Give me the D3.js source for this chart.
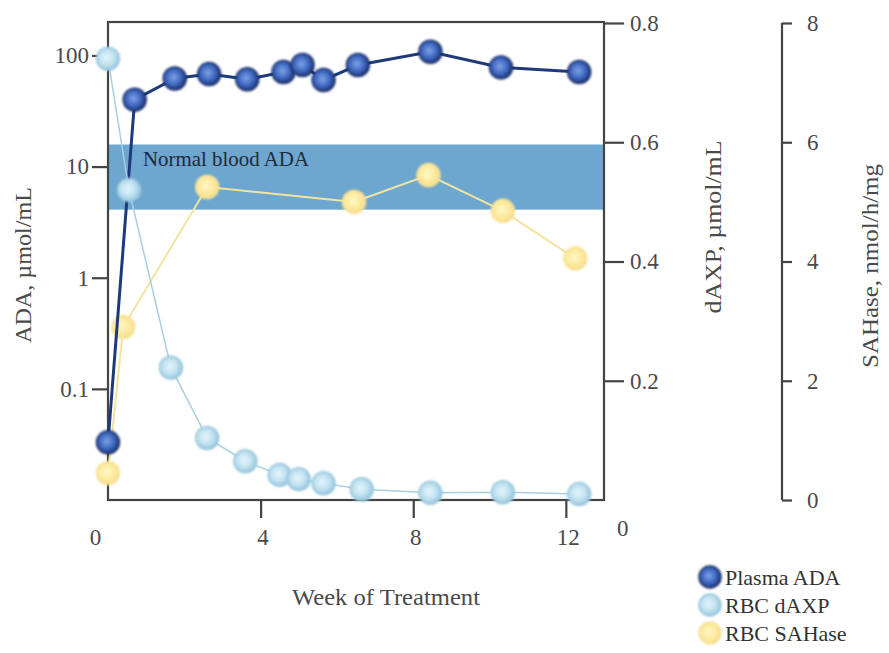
<!DOCTYPE html>
<html>
<head>
<meta charset="utf-8">
<script src="https://cdn.jsdelivr.net/npm/d3@7"></script>
<style>
body { margin: 0; background: #fff; }
text { font-family: "Liberation Serif", "DejaVu Serif", serif; fill: #3a3a3a; }
</style>
</head>
<body>
<svg id="chart" width="889" height="653"></svg>
<script>
// ---------- data ----------
const adaWeeks   = [0, 0.7, 1.75, 2.65, 3.65, 4.6, 5.1, 5.65, 6.55, 8.45, 10.3, 12.35];
const adaValues  = [0.033, 40, 62, 68, 61, 71, 82, 60, 82, 108, 78, 71];

const daxpWeeks  = [0, 0.55, 1.65, 2.6, 3.6, 4.5, 5.0, 5.65, 6.65, 8.45, 10.35, 12.35];
const daxpValues = [0.74, 0.52, 0.222, 0.104, 0.065, 0.042, 0.035, 0.028, 0.018, 0.012, 0.013, 0.01];

const sahWeeks   = [0, 0.4, 2.6, 6.45, 8.4, 10.35, 12.25];
const sahValues  = [0.45, 2.9, 5.25, 5.0, 5.45, 4.85, 4.05];

const normalBand = [4.1, 15.8];

const xTicks      = [0, 4, 8, 12];
const adaTicks    = [100, 10, 1, 0.1];
const adaTickText = ["100", "10", "1", "0.1"];
const daxpTicks   = [0, 0.2, 0.4, 0.6, 0.8];
const sahTicks    = [0, 2, 4, 6, 8];

const seriesNames = ["Plasma ADA", "RBC dAXP", "RBC SAHase"];

// ---------- setup ----------
const svg = d3.select("#chart");
const L = 108, R = 604, T = 22, B = 500;
const x = d3.scaleLinear().domain([0, 13]).range([L, R]);
const yAda = d3.scaleLog().domain([0.01, 200]).range([B, T]);
const yDaxp = d3.scaleLinear().domain([0, 0.8]).range([B, 23]);
const ySah = d3.scaleLinear().domain([0, 8]).range([B, 23]);
const TICK_FONT = 23;
const TEXT_COL = "#4a4a4a";

const defs = svg.append("defs");
function grad(id, c0, c1, c2) {
  const g = defs.append("radialGradient").attr("id", id)
    .attr("cx", "45%").attr("cy", "45%").attr("r", "55%");
  g.append("stop").attr("offset", "0%").attr("stop-color", c0);
  g.append("stop").attr("offset", "60%").attr("stop-color", c1);
  g.append("stop").attr("offset", "100%").attr("stop-color", c2);
}
grad("gDark", "#7fa3e6", "#3d66bf", "#1c3372");
grad("gLight", "#e6f5fb", "#bfe1f0", "#93c4dc");
grad("gYellow", "#fff8c8", "#fdea9e", "#f6dc8c");
const blur = defs.append("filter").attr("id", "soft").attr("x", "-30%").attr("y", "-30%").attr("width", "160%").attr("height", "160%");
blur.append("feGaussianBlur").attr("stdDeviation", 0.8);

// band
svg.append("rect")
  .attr("x", L).attr("width", R - L)
  .attr("y", yAda(normalBand[1]))
  .attr("height", yAda(normalBand[0]) - yAda(normalBand[1]))
  .attr("fill", "#6da6cf");
svg.append("text").attr("x", 143).attr("y", 166)
  .attr("font-size", 21).attr("textLength", 166).attr("lengthAdjust", "spacingAndGlyphs")
  .style("fill", "#1f2a3a").text("Normal blood ADA");

// frame
svg.append("rect").attr("x", L).attr("y", T).attr("width", R - L).attr("height", B - T)
  .attr("fill", "none").attr("stroke", "#444").attr("stroke-width", 2.2);

// axes
function styleAxis(g) {
  g.select(".domain").remove();
  g.selectAll(".tick line").attr("stroke", "#444").attr("stroke-width", 2.2);
  g.selectAll(".tick text").attr("font-family", "Liberation Serif, serif")
    .attr("font-size", TICK_FONT).style("fill", TEXT_COL);
}
const xAxis = svg.append("g").attr("transform", `translate(0,${B})`)
  .call(d3.axisBottom(x).tickValues(xTicks).tickSize(18).tickPadding(11).tickFormat(d3.format("d")));
styleAxis(xAxis);
xAxis.selectAll(".tick").filter(d => d === 0).select("line").remove();
xAxis.selectAll(".tick").filter(d => d === 0).select("text").attr("x", -13);
xAxis.selectAll(".tick").filter(d => d !== 0).select("text").attr("x", 2);

const yAxisL = svg.append("g").attr("transform", `translate(${L},0)`)
  .call(d3.axisLeft(yAda).tickValues(adaTicks).tickSize(16).tickPadding(3)
    .tickFormat((d, i) => adaTickText[i]));
styleAxis(yAxisL);

const yAxisR = svg.append("g").attr("transform", `translate(${R},0)`)
  .call(d3.axisRight(yDaxp).tickValues(daxpTicks).tickSize(20).tickPadding(6).tickFormat(d3.format(".1f")));
styleAxis(yAxisR);
yAxisR.selectAll(".tick").filter(d => d === 0).select("line").remove();
yAxisR.selectAll(".tick").filter(d => d === 0).select("text").text("0")
  .attr("x", 13).attr("y", 28);

const yAxisS = svg.append("g").attr("transform", `translate(782,0)`)
  .call(d3.axisRight(ySah).tickValues(sahTicks).tickSize(10).tickPadding(15).tickFormat(d3.format("d")));
styleAxis(yAxisS);
yAxisS.append("line").attr("x1", 0).attr("x2", 0).attr("y1", ySah(8)).attr("y2", ySah(0))
  .attr("stroke", "#444").attr("stroke-width", 2.2);

// axis titles
function vTitle(xb, yc, len, label) {
  svg.append("text").attr("transform", `translate(${xb},${yc}) rotate(-90)`)
    .attr("text-anchor", "middle").attr("font-size", 24)
    .attr("textLength", len).attr("lengthAdjust", "spacingAndGlyphs")
    .style("fill", TEXT_COL).text(label);
}
vTitle(31, 265, 156, "ADA, µmol/mL");
vTitle(721, 227, 173, "dAXP, µmol/mL");
vTitle(878, 266, 204, "SAHase, nmol/h/mg");
svg.append("text").attr("x", 386).attr("y", 605)
  .attr("text-anchor", "middle").attr("font-size", 24)
  .attr("textLength", 188).attr("lengthAdjust", "spacingAndGlyphs")
  .style("fill", TEXT_COL).text("Week of Treatment");

// series
const R_DOT = 11.5;
function drawSeries(weeks, values, yScale, lineColor, lineWidth, gradId, strokeCol) {
  const pts = weeks.map((w, i) => [w, values[i]]);
  const line = d3.line().x(d => x(d[0])).y(d => yScale(d[1]));
  svg.append("path").datum(pts).attr("d", line)
    .attr("fill", "none").attr("stroke", lineColor).attr("stroke-width", lineWidth);
  svg.append("g").selectAll("circle").data(pts).join("circle")
    .attr("cx", d => x(d[0])).attr("cy", d => yScale(d[1])).attr("r", R_DOT)
    .attr("fill", `url(#${gradId})`).attr("stroke", strokeCol).attr("stroke-width", 1.5)
    .attr("filter", "url(#soft)");
}
drawSeries(sahWeeks, sahValues, ySah, "#f3e3a0", 2, "gYellow", "#f7e29a");
drawSeries(adaWeeks, adaValues, yAda, "#1f3a78", 3, "gDark", "#1a2f66");
drawSeries(daxpWeeks, daxpValues, yDaxp, "#a9cfe0", 1.5, "gLight", "#9cc8de");

// legend
const legendColors = [["gDark", "#1a2f66"], ["gLight", "#9cc8de"], ["gYellow", "#f7e29a"]];
const lg = svg.append("g").selectAll("g").data(seriesNames).join("g")
  .attr("transform", (d, i) => `translate(710,${577 + i * 28})`);
lg.append("circle").attr("r", 11)
  .attr("fill", (d, i) => `url(#${legendColors[i][0]})`)
  .attr("stroke", (d, i) => legendColors[i][1]).attr("stroke-width", 1.5)
  .attr("filter", "url(#soft)");
lg.append("text").attr("x", 15).attr("y", 8).attr("font-size", 22)
  .style("fill", "#333").text(d => d);
</script>
</body>
</html>
